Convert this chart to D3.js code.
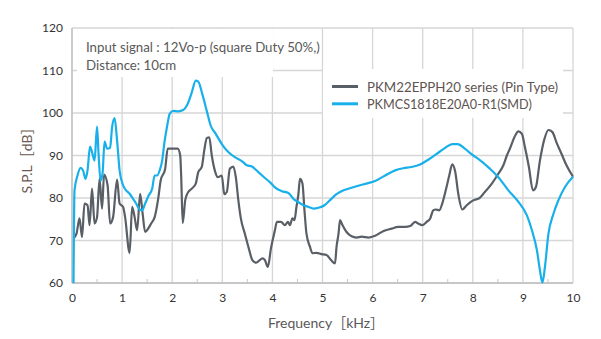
<!DOCTYPE html>
<html><head><meta charset="utf-8">
<script src="https://cdn.jsdelivr.net/npm/d3@7"></script>
<style>
html,body{margin:0;padding:0;background:#fff;}
svg{display:block;font-family:Lato,"Open Sans","Noto Sans",sans-serif;}
</style></head>
<body><svg id="c" width="601" height="339"></svg>
<script>
// ---- data ----
const xTicks = [0,1,2,3,4,5,6,7,8,9,10];
const yTicks = [60,70,80,90,100,110,120];
const seriesNames = ["PKM22EPPH20 series (Pin Type)", "PKMCS1818E20A0-R1(SMD)"];

const pinFreq = [0.03,0.09,0.15,0.20,0.25,0.31,0.35,0.40,0.45,0.50,0.55,0.60,0.64,0.71,0.76,0.82,0.90,0.95,1.02,1.06,1.15,1.20,1.25,1.30,1.36,1.41,1.46,1.52,1.58,1.65,1.72,1.77,1.86,1.91,2.02,2.11,2.16,2.18,2.21,2.26,2.31,2.39,2.47,2.52,2.59,2.64,2.69,2.74,2.79,2.85,2.91,2.99,3.04,3.09,3.15,3.22,3.27,3.32,3.37,3.45,3.53,3.60,3.67,3.73,3.80,3.85,3.91,3.97,4.05,4.09,4.17,4.25,4.31,4.35,4.40,4.44,4.48,4.52,4.55,4.60,4.64,4.68,4.75,4.80,4.88,4.98,5.08,5.17,5.25,5.28,5.32,5.35,5.40,5.48,5.58,5.68,5.78,5.92,6.05,6.21,6.38,6.51,6.65,6.75,6.85,6.91,6.99,7.08,7.15,7.21,7.26,7.33,7.39,7.46,7.53,7.59,7.65,7.71,7.79,7.88,7.96,8.04,8.11,8.24,8.38,8.51,8.61,8.68,8.74,8.83,8.91,8.98,9.04,9.12,9.20,9.26,9.34,9.43,9.51,9.59,9.67,9.77,9.87,10.0];
const pinSPL  = [70.5,71.6,75.2,70.8,78.7,78.3,73.6,82.2,74.0,75.5,84.5,77.5,85.5,83.0,74.0,75.5,84.3,78.7,77.9,75.5,67.1,77.9,75.5,72.4,81.0,76.3,72.0,72.8,74.0,75.5,79.8,84.1,86.9,91.6,91.6,91.6,90.0,84.9,74.1,79.5,81.2,82.2,83.4,86.1,87.3,91.2,94.1,94.3,90.0,86.5,84.9,85.3,80.9,81.4,86.9,87.4,84.9,79.5,75.2,71.6,68.1,65.4,64.8,65.2,65.8,65.4,63.8,68.1,72.4,74.4,74.4,73.6,74.4,73.6,75.2,74.8,77.9,81.0,84.5,83.4,77.1,71.6,68.5,67.0,67.1,66.8,66.6,65.4,64.6,68.5,71.6,74.8,73.6,72.0,71.0,70.7,70.9,70.7,71.1,72.2,72.8,73.2,73.2,73.4,74.4,74.0,73.6,74.4,75.2,77.1,77.3,77.1,78.7,81.8,85.3,87.9,86.1,81.0,77.3,78.3,79.1,79.6,79.8,81.4,83.4,85.7,87.7,90.0,91.6,94.3,95.7,95.1,92.0,87.3,81.8,82.6,88.8,93.9,96.0,95.5,93.1,90.4,87.7,85.0];

const smdFreq = [0.03,0.05,0.11,0.17,0.22,0.27,0.31,0.36,0.40,0.45,0.50,0.53,0.57,0.61,0.65,0.70,0.76,0.80,0.85,0.90,0.95,1.02,1.08,1.15,1.22,1.28,1.35,1.40,1.46,1.53,1.60,1.65,1.70,1.75,1.80,1.85,1.90,1.95,2.02,2.12,2.22,2.29,2.39,2.47,2.52,2.60,2.69,2.77,2.87,2.99,3.12,3.25,3.39,3.49,3.59,3.72,3.85,3.97,4.05,4.19,4.32,4.42,4.52,4.62,4.72,4.82,4.92,5.04,5.15,5.28,5.42,5.58,5.75,5.91,6.05,6.25,6.45,6.61,6.78,6.95,7.11,7.28,7.45,7.59,7.70,7.84,8.01,8.11,8.34,8.51,8.71,8.91,9.08,9.18,9.28,9.34,9.39,9.44,9.51,9.61,9.71,9.84,10.0];
const smdSPL  = [60.0,81.8,85.3,87.1,86.5,84.5,86.5,92.1,90.8,88.8,96.8,90.4,84.1,85.8,93.3,91.6,91.8,96.6,98.8,93.5,86.5,83.0,81.8,81.0,79.8,78.7,77.3,77.1,78.7,80.6,82.2,85.3,85.3,86.5,88.8,93.5,97.0,99.8,100.5,100.4,100.7,101.7,104.8,107.6,107.4,104.5,100.5,97.0,95.1,92.7,90.8,89.6,88.7,87.7,87.4,86.1,84.7,83.5,82.5,81.6,81.2,79.8,79.0,78.3,77.9,77.5,77.7,78.3,79.5,80.9,81.8,82.4,83.0,83.5,84.0,85.3,86.5,87.0,87.3,87.9,89.0,90.4,91.8,92.7,92.7,91.6,90.0,89.2,86.9,84.9,81.8,79.1,75.9,72.4,67.7,63.0,60.1,63.8,71.6,76.3,79.5,82.6,85.0];

const noteLines = ["Input signal : 12Vo-p (square Duty 50%,)", "Distance: 10cm"];
const xTitle = "Frequency［kHz］";
const yTitle = "S.P.L［dB］";

// ---- layout ----
const L = 72, R = 573, T = 28, B = 283;
const colors = ["#595f66", "#18b0ea"];
const svg = d3.select("#c");
const x = d3.scaleLinear().domain([0,10]).range([L,R]);
const y = d3.scaleLinear().domain([60,120]).range([B,T]);

function fit(sel, target){
  const n = sel.node();
  const w = n.getComputedTextLength();
  const fs = parseFloat(sel.attr("font-size"));
  sel.attr("font-size", (fs*target/w).toFixed(2));
}

const grid = svg.append("g");
grid.selectAll(".gx").data(xTicks).join("line")
  .attr("x1",d=>x(d)).attr("x2",d=>x(d)).attr("y1",T).attr("y2",B)
  .attr("stroke","#d6d6d6").attr("stroke-width",1.3);
grid.selectAll(".gy").data(yTicks).join("line")
  .attr("x1",L).attr("x2",R).attr("y1",d=>y(d)).attr("y2",d=>y(d))
  .attr("stroke","#d6d6d6").attr("stroke-width",1.3);

// minor ticks
const minor = d3.range(0.5,10,1);
grid.selectAll(".mt").data(minor).join("line")
  .attr("x1",d=>x(d)).attr("x2",d=>x(d)).attr("y1",B-4).attr("y2",B)
  .attr("stroke","#c8c8c8").attr("stroke-width",1);

// axis lines
svg.append("line").attr("x1",L).attr("x2",R).attr("y1",B).attr("y2",B).attr("stroke","#bfbfbf").attr("stroke-width",1.3);
svg.append("line").attr("x1",L).attr("x2",L).attr("y1",T).attr("y2",B).attr("stroke","#bfbfbf").attr("stroke-width",1.3);

// white boxes (annotation + legend)
svg.append("rect").attr("x",77).attr("y",29).attr("width",196).attr("height",48).attr("fill","#fff");
svg.append("rect").attr("x",323).attr("y",69).attr("width",240).attr("height",49).attr("fill","#fff");

// axis labels
const xAxis = d3.axisBottom(x).tickValues(xTicks).tickSize(0).tickPadding(10).tickFormat(d3.format("d"));
const gx = svg.append("g").attr("transform",`translate(0,${B})`).call(xAxis);
gx.select(".domain").remove();
gx.selectAll("text").attr("font-size",12).attr("fill","#333").attr("font-family","Lato,sans-serif");
const yAxis = d3.axisLeft(y).tickValues(yTicks).tickSize(0).tickPadding(9).tickFormat(d3.format("d"));
const gy = svg.append("g").attr("transform",`translate(${L},0)`).call(yAxis);
gy.select(".domain").remove();
gy.selectAll("text").attr("font-size",12).attr("fill","#333").attr("font-family","Lato,sans-serif");

// curves
const line = d3.line().x(d=>x(d[0])).y(d=>y(d[1])).curve(d3.curveMonotoneX);
const pinData = pinFreq.map((f,i)=>[f,pinSPL[i]]);
const smdData = smdFreq.map((f,i)=>[f,smdSPL[i]]);
svg.append("path").datum(pinData).attr("d",line).attr("fill","none")
  .attr("stroke",colors[0]).attr("stroke-width",2.2).attr("stroke-linejoin","round");
svg.append("path").datum(smdData).attr("d",line).attr("fill","none")
  .attr("stroke",colors[1]).attr("stroke-width",2.2).attr("stroke-linejoin","round");

// annotation
const n1 = svg.append("text").attr("x",86).attr("y",52).attr("font-size",13).attr("fill","#595959").text(noteLines[0]);
fit(n1, 234);
const n2 = svg.append("text").attr("x",86).attr("y",70).attr("font-size",n1.attr("font-size")).attr("fill","#595959").text(noteLines[1]);

// legend
const leg = svg.append("g");
[0,1].forEach(i=>{
  const yy = 86.5 + i*17.3;
  leg.append("line").attr("x1",332).attr("x2",358).attr("y1",yy).attr("y2",yy)
    .attr("stroke",colors[i]).attr("stroke-width",3);
  const t = leg.append("text").attr("x",367).attr("y",yy+5).attr("font-size",13).attr("fill","#5e5450").text(seriesNames[i]);
  fit(t, i===0 ? 191 : 165);
});

// axis titles
svg.append("text").attr("x",326).attr("y",328).attr("text-anchor","middle")
  .attr("font-size",14).attr("fill","#595959")
  .attr("font-family",'Lato,"Noto Sans CJK JP",sans-serif').text(xTitle);
svg.append("text").attr("transform","translate(32,157) rotate(-90)").attr("text-anchor","middle")
  .attr("font-size",14).attr("fill","#6a5a52")
  .attr("font-family",'Lato,"Noto Sans CJK JP",sans-serif').text(yTitle);
</script></body></html>
